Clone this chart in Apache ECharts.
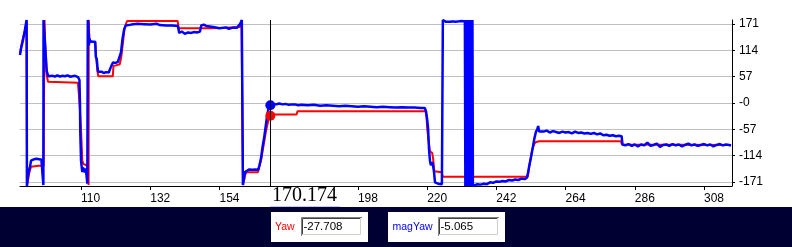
<!DOCTYPE html>
<html><head><meta charset="utf-8">
<script src="https://cdn.jsdelivr.net/npm/echarts@6/dist/echarts.min.js"></script>
<style>html,body{margin:0;padding:0;background:#fff}#c{width:792px;height:247px}</style>
</head><body><div id="c"></div>
<script>
// ---- data ----
const xTicks = [110,132,154,176,198,220,242,264,286,308];
const yTicks = [-171,-114,-57,0,57,114,171];
const cursorX = 170.174;
const yawAtCursor = -27.708;
const magYawAtCursor = -5.065;

const yaw = [
[90.6,108],[91.2,130],[91.6,142],[92.3,160],[92.7,178],[92.85,-178],[93.2,-165],[93.6,-150],[94.1,-138],[94.7,-136],[96.5,-136],[98.1,-136],[98.4,180],[98.6,130],[99.1,60],[99.5,46],[100,44],[109.0,44],[109.3,20],[109.7,-20],[110.0,-60],[110.2,-90],[110.4,-125],[110.7,-132],[111.2,-130],[111.7,-135],[112.2,-140],[112.4,-178],[112.45,180],[112.6,150],[112.8,133],[114.5,132],[114.8,100],[115.2,70],[115.5,58],[120.1,58],[120.3,80],[120.8,84],[122.3,84],[122.8,100],[123.3,130],[123.8,160],[124.3,172],[124.7,178],[140.7,178],[141.0,162],[151.6,162],[152,163],[156,163],[160.5,165],[161.0,178],[161.3,180],[161.5,-178],[162,-160],[162.5,-150],[166.2,-150],[166.6,-140],[167.2,-125],[167.7,-105],[168.2,-85],[168.8,-60],[169.3,-45],[169.7,-32],[170.174,-27.708],[171,-25],[178.5,-25],[178.8,-18],[219.5,-18],[219.8,-30],[220.1,-60],[220.6,-90],[220.9,-105],[221.1,-108],[221.6,-108],[221.9,-120],[222.3,-148],[222.6,-150],[224.6,-150],[225.0,-160],[252.0,-160],[252.4,-140],[252.9,-120],[253.4,-100],[254,-90],[254.4,-85],[255.6,-83],[281.6,-83],[281.9,-90],[316.6,-91]
];

const magYaw = [
[90.6,104],[90.9,117],[91.6,138],[92.2,160],[92.7,180],[92.8,-180],[93.0,-178],[93.15,-158],[93.5,-145],[93.8,-138],[94.1,-125],[94.4,-123],[94.7,-126],[95.0,-122],[95.4,-124],[95.8,-121],[96.3,-124],[96.7,-122],[97.0,-125],[97.4,-123],[97.8,-124],[98.0,-125],[98.03,-178],[98.08,180],
[98.2,176],[98.5,134],[99.1,69],[99.6,58],[100.2,56],[101,59],[101.7,57],[102.5,60],[103.3,57],[104,59],[104.9,58],[105.7,60],[106.5,57],[107.3,58],[108.1,59],[108.7,57],[109.05,56],[109.5,50],[109.68,-10],[109.75,-60],[110.0,-125],[110.2,-138],[110.4,-150],[110.6,-140],[110.9,-145],[111.2,-150],[111.5,-142],[111.8,-160],[112.0,-175],[112.1,-178],[112.15,180],
[112.3,175],[112.5,125],[112.7,140],[112.9,134],[113.3,136],[113.8,133],[114.2,135],[114.5,133],[114.7,100],[115.0,95],[115.2,80],[115.4,68],[115.8,66],[116.5,68],[117.2,65],[118,67],[118.8,66],[119.2,69],[119.6,80],[120.2,88],[121,87],[121.7,89],[122.3,90],[122.7,110],[123.2,140],[123.7,160],[124.2,168],[124.6,171],[126,170],[128,172],[130,171],[132,170],[134,172],[135,169],[137,168],[139,168],[140.8,167],[141.2,152],[142,155],[143,150],[144,153],[145,152],[146,154],[147,153],[147.8,155],[148.2,168],[149,170],[149.8,167],[150.3,165],[152,165],[154,162],[156,164],[157,161],[158,163],[159.5,163],[160,166],[160.6,172],[161.1,180],[161.4,180],[161.45,-178],
[161.5,-173],[161.8,-165],[162.1,-150],[162.6,-146],[163.5,-144],[164.5,-145],[165.5,-144],[166.3,-145],[166.7,-135],[167.2,-120],[167.7,-95],[168.2,-75],[168.7,-50],[169.1,-30],[169.5,-15],[169.8,-8],[170.174,-5.065],[171,-2],[172,-3],[173,-1],[174,-3],[175,-2],[176,-4],[177,-3],[178,-3],[179,-5],[180,-4],[182,-5],[184,-4],[186,-6],[188,-5],[190,-6],[192,-7],[194,-6],[196,-7],[198,-8],[200,-7],[202,-8],[204,-9],[206,-8],[208,-9],[210,-10],[212,-9],[214,-10],[216,-10],[218,-11],[219.3,-11],
[219.7,-20],[220,-35],[220.3,-55],[220.6,-100],[220.9,-125],[221.2,-135],[221.6,-128],[221.9,-137],[222.2,-150],[222.5,-172],[223,-176],[223.5,-175],[224,-177],[224.7,-176],[224.95,-178],[225.0,180],[225.1,178],[226,176],[226.5,174],[227,176],[227.5,173],[228.3,177],[229,176],[230,177],[231,178],[232,177],
[232.15,-180],[232.3,180],[232.45,-180],[232.6,180],[232.75,-180],[232.9,180],[233.05,-180],[233.2,180],[233.35,-180],[233.5,180],[233.65,-180],[233.8,180],[233.95,-180],[234.1,180],[234.25,-180],[234.4,180],[234.55,-180],
[234.7,-178],[236,-176],[237,-177],[238,-175],[239,-176],[240,-172],[241,-173],[242,-170],[243,-171],[244,-169],[245,-170],[246,-167],[247,-168],[248,-166],[249,-167],[250,-164],[251,-165],[251.7,-162],
[252.1,-150],[252.5,-135],[253,-118],[253.5,-100],[254,-80],[254.6,-62],[255,-57],[255.3,-50],[255.6,-62],[256,-58],[257,-62],[258,-60],[259,-64],[260,-61],[261,-63],[262,-65],[263,-62],[264,-64],[265,-63],[266,-66],[267,-62],[268,-65],[269,-64],[270,-66],[271,-65],[272,-67],[273,-65],[274,-68],[275,-66],[276,-70],[277,-69],[278,-71],[279,-70],[280,-72],[281,-71],[281.8,-72],
[282.1,-90],[283,-92],[284,-89],[285,-93],[286,-90],[287,-94],[288,-90],[289,-92],[290,-86],[291,-93],[292,-91],[293,-88],[294,-95],[295,-91],[296,-90],[297,-93],[298,-89],[299,-92],[300,-90],[301,-94],[302,-91],[303,-88],[304,-92],[305,-90],[306,-93],[307,-91],[308,-89],[309,-92],[310,-90],[311,-94],[312,-91],[313,-89],[314,-92],[315,-90],[316,-91],[316.6,-92]
];

// ---- chart ----
const FONT = "'Liberation Sans', Arial, sans-serif";
const chart = echarts.init(document.getElementById('c'));
chart.setOption({
  animation: false,
  backgroundColor: '#ffffff',
  grid: { left: 20, right: 60, top: 20, bottom: 61 },
  xAxis: {
    type: 'value', min: 90.6, max: 316.9,
    axisLine: { show: true, onZero: false, lineStyle: { color: '#000', width: 1 } },
    axisTick: { show: true, length: 4, customValues: xTicks, lineStyle: { color: '#000' } },
    axisLabel: { customValues: xTicks, align: 'left', margin: 7, color: '#000', fontSize: 12, fontFamily: FONT },
    splitLine: { show: false }
  },
  yAxis: {
    type: 'value', position: 'right', min: -180, max: 180,
    axisLine: { show: true, lineStyle: { color: '#000', width: 1 } },
    axisTick: { show: true, length: 3, customValues: yTicks, lineStyle: { color: '#000' } },
    axisLabel: { customValues: yTicks, margin: 7, color: '#000', fontSize: 12, fontFamily: FONT,
      verticalAlign: 'middle', padding: [0, 0, 9, 0],
      formatter: v => (v === 0 ? '-0' : String(v)) },
    splitLine: { show: true, lineStyle: { color: '#c0c0c0', width: 1 } }
  },
  series: [
    { name: 'Yaw', type: 'line', data: yaw, showSymbol: false, symbol: 'none',
      lineStyle: { color: '#ff0000', width: 2 }, z: 2 },
    { name: 'magYaw', type: 'line', data: magYaw, showSymbol: false, symbol: 'none',
      lineStyle: { color: '#0000ff', width: 2.5 }, z: 3,
      markLine: { silent: true, symbol: ['none', 'none'], label: { show: false },
        lineStyle: { color: '#000', width: 1, type: 'solid' },
        data: [{ xAxis: cursorX }] } },
    { type: 'scatter', data: [[cursorX, yawAtCursor]], symbolSize: 10,
      itemStyle: { color: '#ff0000', opacity: 1, borderWidth: 0 }, z: 4 },
    { type: 'scatter', data: [[cursorX, magYawAtCursor]], symbolSize: 10,
      itemStyle: { color: '#0000ff', opacity: 1, borderWidth: 0 }, z: 4 }
  ]
});

const px = Math.round(chart.convertToPixel({ xAxisIndex: 0 }, cursorX));

function inputBox(x, y, w, h) {
  return [
    { type: 'rect', shape: { x: x, y: y, width: w, height: h }, style: { fill: '#fff' }, z: 101 },
    { type: 'polyline', shape: { points: [[x + 0.5, y + h], [x + 0.5, y + 0.5], [x + w, y + 0.5]] }, style: { stroke: '#808080', lineWidth: 1, fill: null }, z: 102 },
    { type: 'polyline', shape: { points: [[x + 1.5, y + h - 1], [x + 1.5, y + 1.5], [x + w - 1, y + 1.5]] }, style: { stroke: '#404040', lineWidth: 1, fill: null }, z: 102 },
    { type: 'polyline', shape: { points: [[x + 1, y + h - 1.5], [x + w - 1.5, y + h - 1.5], [x + w - 1.5, y + 1]] }, style: { stroke: '#d4d0c8', lineWidth: 1, fill: null }, z: 102 }
  ];
}

const g = [
  { type: 'rect', shape: { x: 0, y: 207, width: 792, height: 40 }, style: { fill: '#000033' }, z: 100 },
  { type: 'rect', shape: { x: px, y: 187, width: 70, height: 20 }, style: { fill: '#fff' }, z: 100 },
  { type: 'rect', shape: { x: px, y: 206, width: 70, height: 1 }, style: { fill: '#c8c8f0' }, z: 101 },
  { type: 'text', x: px + 2, y: 196, style: { text: cursorX.toFixed(3), fill: '#000', font: "20px 'Liberation Serif', 'Times New Roman', serif", verticalAlign: 'middle' }, z: 102 },
  // Yaw panel
  { type: 'rect', shape: { x: 271, y: 212, width: 97, height: 30 }, style: { fill: '#fff' }, z: 100 },
  { type: 'text', x: 275, y: 227, style: { text: 'Yaw', fill: '#ff0000', font: '10.5px ' + FONT, verticalAlign: 'middle' }, z: 102 },
  ...inputBox(301, 217, 61, 19),
  { type: 'text', x: 303.5, y: 227, style: { text: yawAtCursor.toFixed(3), fill: '#000', font: '11.5px ' + FONT, verticalAlign: 'middle' }, z: 103 },
  // magYaw panel
  { type: 'rect', shape: { x: 388, y: 212, width: 117, height: 30 }, style: { fill: '#fff' }, z: 100 },
  { type: 'text', x: 392.5, y: 227, style: { text: 'magYaw', fill: '#0000ff', font: '10.5px ' + FONT, verticalAlign: 'middle' }, z: 102 },
  ...inputBox(438, 217, 61, 19),
  { type: 'text', x: 440.5, y: 227, style: { text: magYawAtCursor.toFixed(3), fill: '#000', font: '11.5px ' + FONT, verticalAlign: 'middle' }, z: 103 }
];
chart.setOption({ graphic: { elements: g } });
</script>
</body></html>
